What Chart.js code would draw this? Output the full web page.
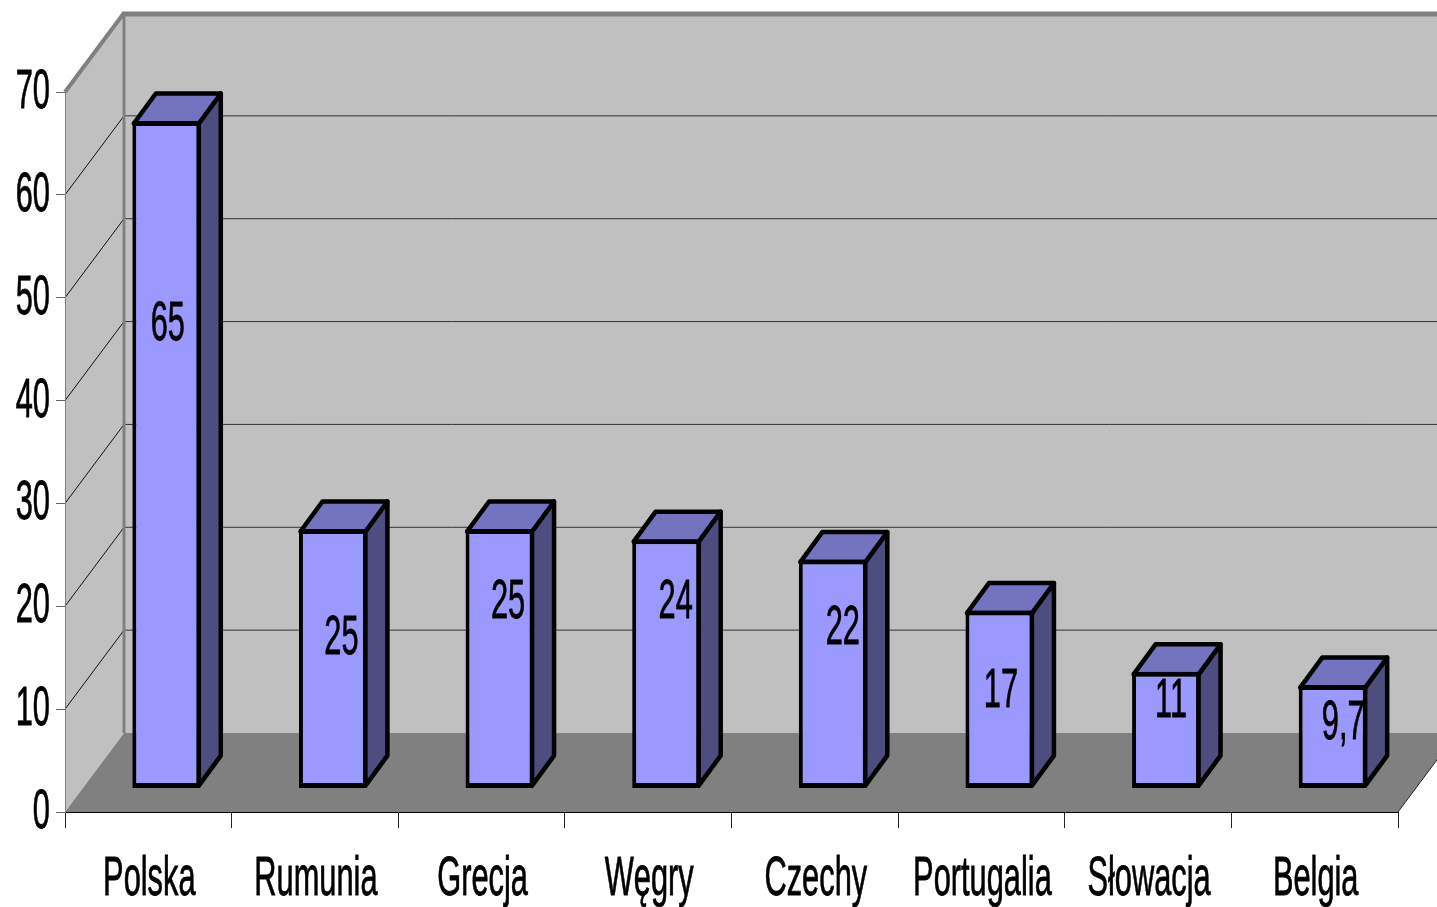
<!DOCTYPE html>
<html lang="pl">
<head>
<meta charset="utf-8">
<title>Wykres</title>
<script src="https://cdn.jsdelivr.net/npm/chart.js@4"></script>
<style>
  html, body { margin: 0; padding: 0; background: #fff; overflow: hidden; }
  canvas { display: block; }
</style>
</head>
<body>
<canvas id="chart" width="1437" height="907"></canvas>
<script>
const countries = ["Polska", "Rumunia", "Grecja", "Węgry", "Czechy", "Portugalia", "Słowacja", "Belgia"];
const values = [65, 25, 25, 24, 22, 17, 11, 9.7];
const yTicks = [0, 10, 20, 30, 40, 50, 60, 70];

// the labels were dragged by hand in the original, so each has its own nudge from the bar top
const labelNudgeX = [1.5, 8.5, 8.5, 9.5, 10, 1.5, 5, 10.5];
const labelNudgeY = [199, 105, 69, 59, 64, 76, 25, 34];

const WALL_DX = 59;
const WALL_DY = 79;
const BAR_SHIFT = 18;
const BOX_DX = 22;
const BOX_DY = 30;
const FONT = '56px "Liberation Sans", Arial, sans-serif';
const SQUASH = 0.55;

function poly(ctx, pts, fill, stroke, width) {
  ctx.beginPath();
  pts.forEach(([x, y], i) => (i ? ctx.lineTo(x, y) : ctx.moveTo(x, y)));
  ctx.closePath();
  if (fill) {
    ctx.fillStyle = fill;
    ctx.fill();
  }
  if (stroke) {
    ctx.strokeStyle = stroke;
    ctx.lineWidth = width;
    ctx.lineJoin = "round";
    ctx.stroke();
  }
}

function line(ctx, x1, y1, x2, y2, color, width) {
  ctx.beginPath();
  ctx.moveTo(x1, y1);
  ctx.lineTo(x2, y2);
  ctx.strokeStyle = color;
  ctx.lineWidth = width;
  ctx.stroke();
}

function squashedText(ctx, text, x, y, align) {
  ctx.save();
  ctx.translate(x, y);
  ctx.scale(SQUASH, 1);
  ctx.font = FONT;
  ctx.fillStyle = "#000";
  ctx.strokeStyle = "#000";
  ctx.lineWidth = 0.8;
  ctx.textAlign = align;
  ctx.textBaseline = "alphabetic";
  ctx.fillText(text, 0, 0);
  ctx.strokeText(text, 0, 0);
  ctx.restore();
}

const walls = {
  id: "walls",
  beforeDraw(chart) {
    const { ctx, chartArea: a, scales } = chart;
    const top = scales.y.getPixelForValue(70);
    const bottom = scales.y.getPixelForValue(0);
    const backX = a.left + WALL_DX;
    const farX = a.right + WALL_DX;

    ctx.save();
    poly(ctx, [[a.left, top], [backX, top - WALL_DY], [backX, bottom - WALL_DY], [a.left, bottom]], "#c0c0c0");
    poly(ctx, [[backX, top - WALL_DY], [farX, top - WALL_DY], [farX, bottom - WALL_DY], [backX, bottom - WALL_DY]], "#c0c0c0");
    poly(ctx, [[a.left, bottom], [backX, bottom - WALL_DY], [farX, bottom - WALL_DY], [a.right, bottom]], "#808080");

    yTicks.slice(1, -1).forEach((v) => {
      const y = scales.y.getPixelForValue(v);
      line(ctx, a.left, y, backX, y - WALL_DY, "#111", 1);
      line(ctx, backX, y - WALL_DY, farX, y - WALL_DY, "#333", 1);
    });

    line(ctx, a.left, top, backX, top - WALL_DY, "#808080", 4);
    line(ctx, backX - 2, top - WALL_DY + 1, farX, top - WALL_DY + 1, "#808080", 5);
    line(ctx, backX, top - WALL_DY, backX, bottom - WALL_DY, "#808080", 3);
    line(ctx, a.right, bottom, farX, bottom - WALL_DY, "#222", 1);
    ctx.restore();
  }
};

const boxes = {
  id: "boxes",
  beforeDatasetsDraw(chart) {
    const { ctx } = chart;
    ctx.save();
    ctx.translate(BAR_SHIFT, 0);
    chart.getDatasetMeta(0).data.forEach((bar) => {
      // border is drawn inside the rect, the faces meet its centre line
      const left = bar.x - bar.width / 2 + 1.5;
      const right = bar.x + bar.width / 2 - 1.5;
      const t = bar.y + 2.5;
      const b = bar.base - 2.5;
      poly(ctx, [[right, t], [right + BOX_DX, t - BOX_DY], [right + BOX_DX, b - BOX_DY], [right, b]], "#4d4d80", "#000", 4.5);
      poly(ctx, [[left, t], [left + BOX_DX, t - BOX_DY], [right + BOX_DX, t - BOX_DY], [right, t]], "#7373bf", "#000", 4.5);
    });
  },
  afterDatasetsDraw(chart) {
    chart.ctx.restore();
  }
};

const texts = {
  id: "texts",
  afterDraw(chart) {
    const { ctx, scales } = chart;
    yTicks.forEach((v) => {
      squashedText(ctx, String(v), 50, scales.y.getPixelForValue(v) + 16, "right");
    });
    countries.forEach((name, i) => {
      squashedText(ctx, name, scales.x.getPixelForValue(i) + 1, 895, "center");
    });
    chart.getDatasetMeta(0).data.forEach((bar, i) => {
      const label = String(values[i]).replace(".", ",");
      squashedText(ctx, label, bar.x + BAR_SHIFT + labelNudgeX[i], bar.y + labelNudgeY[i] + 20, "center");
    });
  }
};

new Chart(document.getElementById("chart"), {
  type: "bar",
  data: {
    labels: countries,
    datasets: [
      {
        data: values,
        yAxisID: "yBar",
        base: -0.4,
        backgroundColor: "#9999ff",
        borderColor: "#000",
        borderWidth: { top: 5, bottom: 5, left: 4, right: 4 },
        borderSkipped: false,
        categoryPercentage: 1,
        barPercentage: 0.408,
        clip: false
      }
    ]
  },
  options: {
    responsive: false,
    animation: false,
    layout: { padding: { top: 92, right: 39, left: 0, bottom: 0 } },
    plugins: { legend: { display: false }, title: { display: false }, tooltip: { enabled: false } },
    scales: {
      x: {
        offset: true,
        afterFit: (scale) => { scale.height = 95; },
        ticks: { display: false },
        grid: { drawOnChartArea: false, tickLength: 16, color: "#222" },
        border: { color: "#000", width: 1 }
      },
      y: {
        min: 0,
        max: 70,
        afterFit: (scale) => { scale.width = 65; },
        ticks: { display: false, stepSize: 10 },
        grid: { drawOnChartArea: false, tickLength: 9, color: "#666" },
        border: { color: "#808080", width: 1 }
      },
      // bars stand further back on the floor and with a slightly flatter scale than the front axis
      yBar: {
        display: false,
        min: -2.745,
        max: 67.84
      }
    }
  },
  plugins: [walls, boxes, texts]
});
</script>
</body>
</html>
